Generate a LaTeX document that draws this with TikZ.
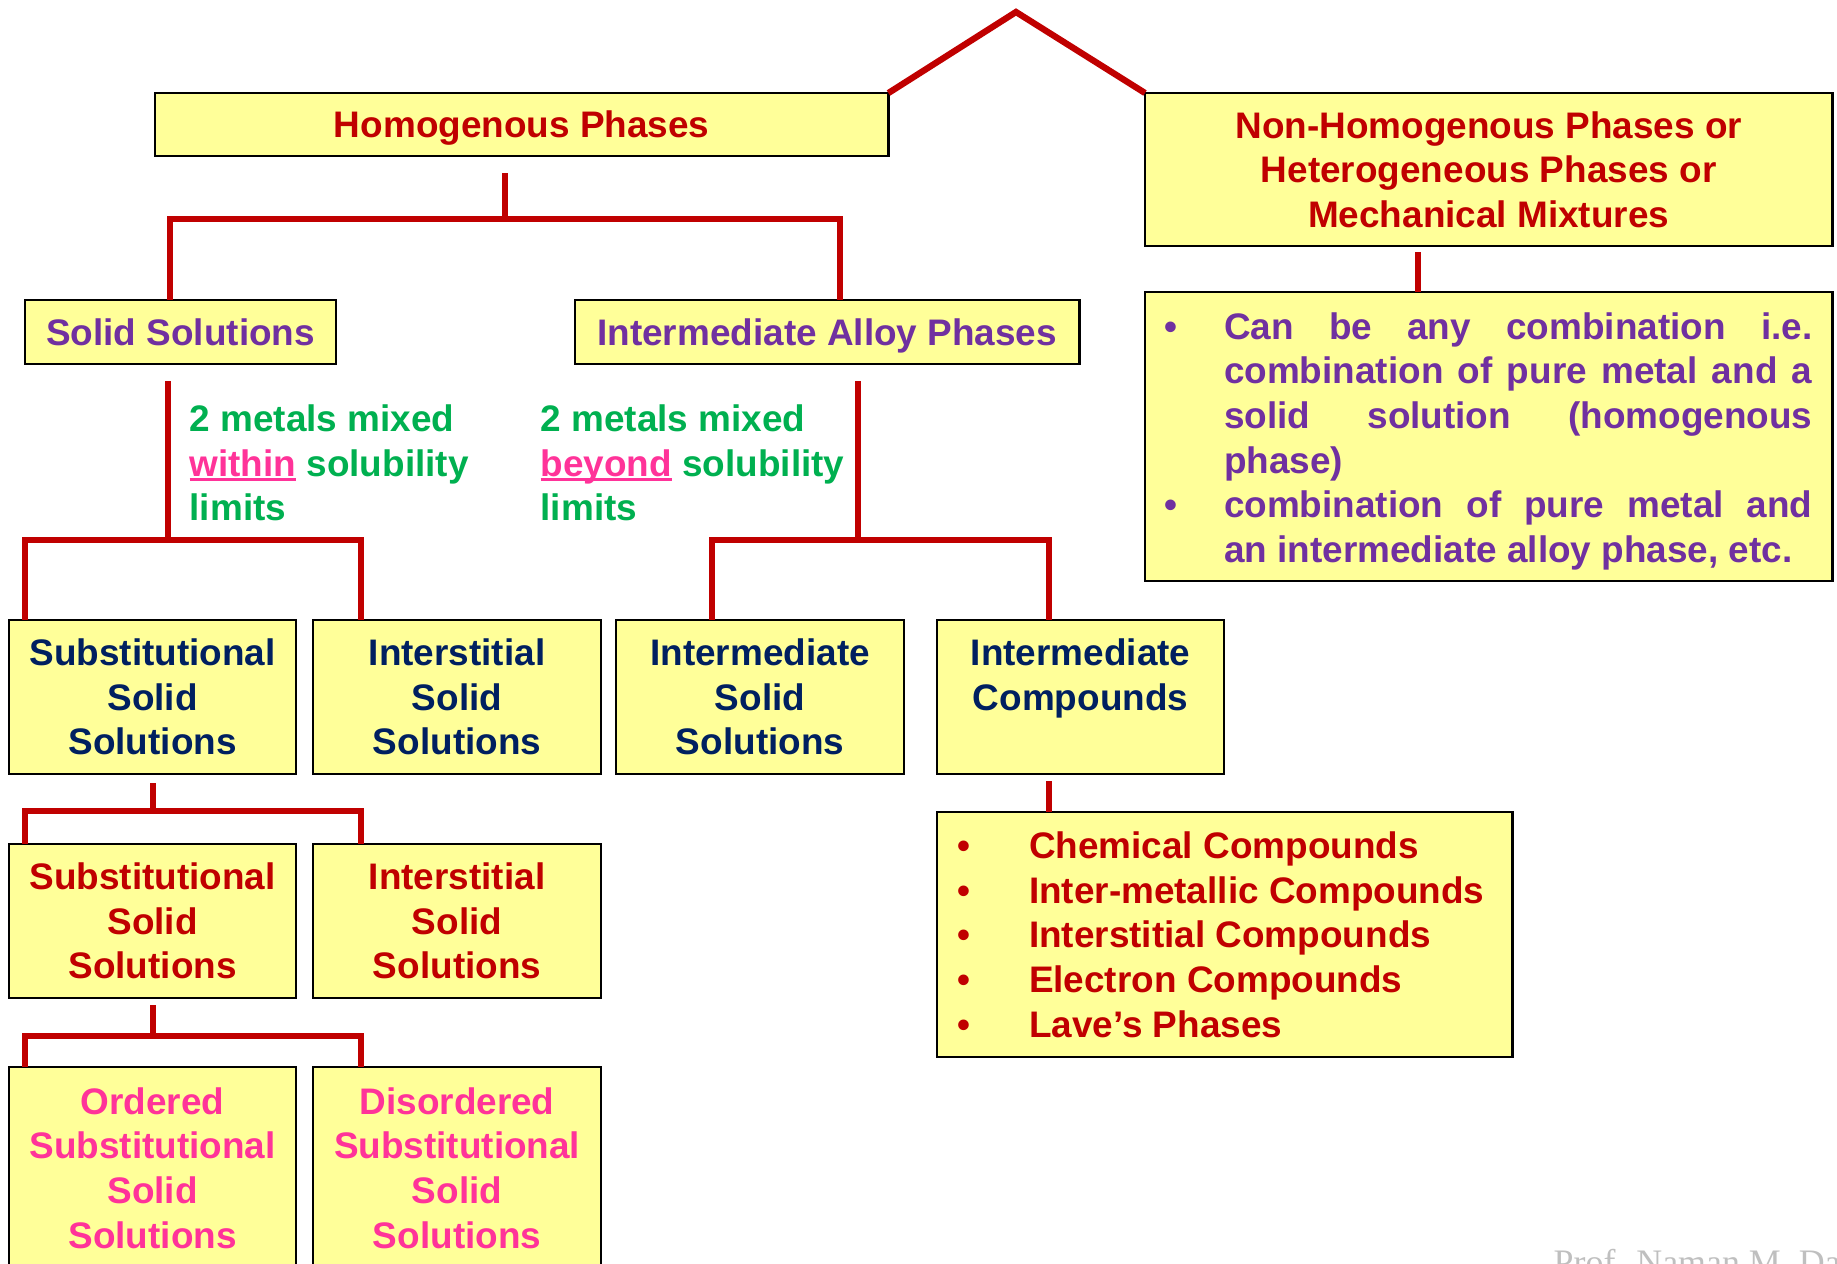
\documentclass[tikz,border=0pt]{standalone}
\usepackage{fontspec}
\setmainfont{Liberation Sans}
\newfontfamily\creditfont{Liberation Serif}
\definecolor{boxyellow}{HTML}{FFFF99}
\definecolor{linkred}{HTML}{C00000}
\definecolor{headred}{HTML}{C00000}
\definecolor{phasepurple}{HTML}{7030A0}
\definecolor{kindnavy}{HTML}{002060}
\definecolor{notegreen}{HTML}{00B050}
\definecolor{markpink}{HTML}{FF3399}
\newcommand{\lowline}[1]{\textcolor{markpink}{\setbox0\hbox{#1}\rlap{\rule[-0.13em]{\wd0}{0.08em}}\box0}}
\newcommand{\dotitem}[1]{\leavevmode\llap{\makebox[#1][l]{•}}}
\tikzset{
  phasebox/.style={draw=black, line width=0.7pt, fill=boxyellow, anchor=north west,
    inner sep=0pt, outer sep=0pt, align=center,
    font=\fontsize{10.5}{12.7}\selectfont\bfseries},
  listbox/.style={phasebox, align=justify},
  branch/.style={draw=linkred, line width=1.8pt},
  note/.style={anchor=north west, inner sep=0pt, align=left, text=notegreen,
    font=\fontsize{10.5}{12.7}\selectfont\bfseries}
}

\begin{document}
\begin{tikzpicture}[x=0.01cm,y=-0.01cm]
    \useasboundingbox (0,0) rectangle (1837,1263);
    \clip (0,0) rectangle (1837,1263);
    % first level
    \node[phasebox, minimum width=7.33cm, minimum height=0.63cm, text depth=0pt, text=headred] (homog) at (155,93) {Homogenous Phases};
    \node[phasebox, minimum width=6.87cm, minimum height=1.53cm, text=headred] (nonhomog) at (1145,93)
      {Non-Homogenous Phases or\\Heterogeneous Phases or\\Mechanical Mixtures};
    \node[listbox, text width=6.87cm, minimum height=2.89cm, text=phasepurple] (heterolist) at (1145,292)
      {\parindent=0pt\leftskip=0.79cm\rightskip=0.20cm
       \dotitem{0.60cm}\rule{0pt}{0.36cm}Can be any combination i.e.\linebreak
       combination of pure metal and a\linebreak
       solid solution (homogenous\linebreak
       phase)\par
       \dotitem{0.60cm}combination of pure metal and\linebreak
       an intermediate alloy phase, etc.\par};
    % second level
    \node[phasebox, minimum width=3.11cm, minimum height=0.64cm, text depth=0pt, text=phasepurple] (solsol) at (25,300) {Solid Solutions};
    \node[phasebox, minimum width=5.04cm, minimum height=0.64cm, text depth=0pt, text=phasepurple] (interalloy) at (575,300) {Intermediate Alloy Phases};
    \node[note] (within) at (189,404) {2 metals mixed\\\lowline{within} solubility\\limits};
    \node[note] (beyond) at (540,404) {2 metals mixed\\\lowline{beyond} solubility\\limits};
    % third level
    \node[phasebox, minimum width=2.87cm, minimum height=1.54cm, text=kindnavy] (subst) at (9,620) {Substitutional\\Solid\\Solutions};
    \node[phasebox, minimum width=2.88cm, minimum height=1.54cm, text=kindnavy] (interst) at (313,620) {Interstitial\\Solid\\Solutions};
    \node[phasebox, minimum width=2.88cm, minimum height=1.54cm, text=kindnavy] (intsol) at (616,620) {Intermediate\\Solid\\Solutions};
    \node[phasebox, minimum width=2.87cm, minimum height=1.54cm, text=kindnavy] (intcomp) at (937,620) {Intermediate\\Compounds\\\mbox{}};
    \node[listbox, text width=5.75cm, minimum height=2.45cm, text=headred] (complist) at (937,812)
      {\parindent=0pt\leftskip=0.92cm\rightskip=0pt plus 1fil
       \dotitem{0.72cm}Chemical Compounds\par
       \dotitem{0.72cm}Inter-metallic Compounds\par
       \dotitem{0.72cm}Interstitial Compounds\par
       \dotitem{0.72cm}Electron Compounds\par
       \dotitem{0.72cm}Lave’s Phases\par};
    % fourth and fifth level
    \node[phasebox, minimum width=2.87cm, minimum height=1.54cm, text=headred] (substR) at (9,844) {Substitutional\\Solid\\Solutions};
    \node[phasebox, minimum width=2.88cm, minimum height=1.54cm, text=headred] (interstR) at (313,844) {Interstitial\\Solid\\Solutions};
    \node[phasebox, minimum width=2.87cm, minimum height=2.02cm, text=markpink] (ordered) at (9,1067) {Ordered\\Substitutional\\Solid\\Solutions};
    \node[phasebox, minimum width=2.88cm, minimum height=2.02cm, text=markpink] (disordered) at (313,1067) {Disordered\\Substitutional\\Solid\\Solutions};
    \node[anchor=base west, inner sep=0pt, text=black!25, font=\creditfont\fontsize{10.2}{12}\selectfont] (credit) at (1553,1274) {Prof. Naman M. Dave};
    % connectors
    \coordinate (apex) at (1016,12);
    \draw[branch] (homog.north east) -- (apex) -- (nonhomog.north west);
    \draw[branch] (homog.south -| 505,0) ++(0,17) -- ++(0,46) coordinate (hj);
    \draw[branch] (solsol.north -| 170,0) |- (hj) -| (interalloy.north -| 840,0);
    \draw[branch] (nonhomog.south -| 1418,0) ++(0,6) -- (heterolist.north -| 1418,0);
    \draw[branch] (solsol.south -| 168,0) ++(0,17) -- ++(0,159) coordinate (sj);
    \draw[branch] (subst.north -| 25,0) |- (sj) -| (interst.north -| 361,0);
    \draw[branch] (interalloy.south -| 858,0) ++(0,17) -- ++(0,159) coordinate (ij);
    \draw[branch] (intsol.north -| 712,0) |- (ij) -| (intcomp.north -| 1049,0);
    \draw[branch] (intcomp.south -| 1049,0) ++(0,7) -- (complist.north -| 1049,0);
    \draw[branch] (subst.south -| 153,0) ++(0,9) -- ++(0,28) coordinate (tj);
    \draw[branch] (substR.north -| 25,0) |- (tj) -| (interstR.north -| 361,0);
    \draw[branch] (substR.south -| 153,0) ++(0,7) -- ++(0,31) coordinate (oj);
    \draw[branch] (ordered.north -| 25,0) |- (oj) -| (disordered.north -| 361,0);
\end{tikzpicture}
\end{document}
